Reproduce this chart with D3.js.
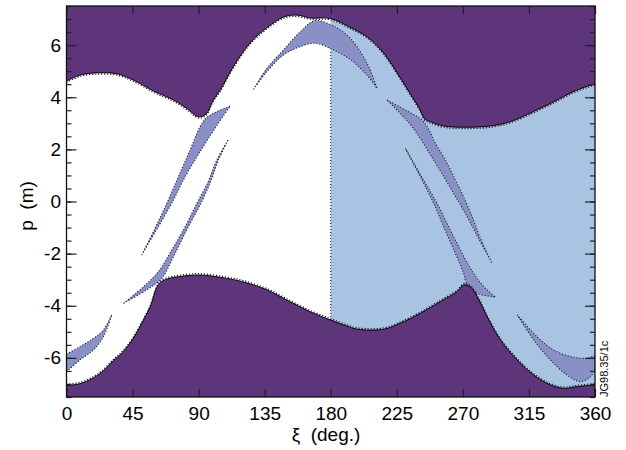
<!DOCTYPE html>
<html><head><meta charset="utf-8">
<script src="https://cdn.jsdelivr.net/npm/d3@7"></script>
<style>
body{margin:0;background:#fff}
svg{display:block}
text{font-family:"Liberation Sans",Arial,sans-serif;fill:#000}
</style>
</head><body>
<svg id="c" width="626" height="450"></svg>
<script>
// ---- data (xi in degrees, p in metres) ----
const xTicks = [0, 45, 90, 135, 180, 225, 270, 315, 360];
const yMajorTicks = [-6, -4, -2, 0, 2, 4, 6];
const yMinorTicks = d3.range(-7.5, 7.51, 0.5);

const upperBoundary = [[0,4.62],[10,4.86],[23,4.94],[35,4.89],[45.5,4.66],[60,4.22],[73,3.89],[82,3.57],[90,3.25],[95,3.35],[100,3.89],[105,4.3],[113.5,5.16],[125,6.08],[137,6.69],[148,7.08],[157,7.15],[166,7.04],[180,7.02],[193,6.69],[205,6.31],[216,5.7],[227,4.78],[234,4.15],[241,3.51],[244,3.17],[248,3.06],[257,2.9],[270,2.85],[289,2.9],[302,3.06],[318,3.45],[332,3.83],[345,4.21],[355,4.43],[360,4.51]];
const lowerBoundary = [[0,-7.06],[9,-6.99],[18,-6.78],[25,-6.5],[32,-6.1],[38,-5.8],[45.5,-5.25],[51,-4.7],[57,-4.04],[61.5,-3.3],[64,-3.1],[70,-2.95],[77,-2.88],[91,-2.82],[109,-2.95],[120,-3.08],[136.5,-3.39],[150,-3.78],[166,-4.23],[180,-4.55],[191,-4.78],[198,-4.9],[216,-4.9],[227.4,-4.67],[241,-4.29],[254.7,-3.84],[266,-3.46],[270.5,-3.2],[275,-3.27],[281,-3.78],[286.5,-4.42],[295.6,-5.31],[307,-6.08],[318.3,-6.66],[329.7,-7.04],[339,-7.17],[348,-7.1],[360,-7.04]];

const separatrix = [[180,-4.55],[180,5.81]];

const bandA_upper = [[127.4,4.30],[136.5,5.11],[147.8,5.81],[159.2,6.51],[169.4,6.94],[181.9,6.73],[193.3,6.26],[204.7,5.30],[211.5,4.34]];
const bandA_lower = [[127.4,4.30],[136.5,4.98],[147.8,5.62],[159.2,5.94],[169.4,6.07],[181.9,5.81],[193.3,5.45],[204.7,4.85],[211.5,4.34]];

const bandB1_left  = [[51.25,-2.05],[60.3,-1.03],[68.3,-0.07],[76.2,0.95],[84.2,1.98],[91.0,2.87],[95.6,3.23],[111.5,3.66]];
const bandB1_right = [[51.25,-2.05],[61.9,-1.03],[71.7,-0.07],[80.8,0.95],[91.0,1.91],[101.2,2.81],[111.5,3.66]];

const bandB2_left  = [[38.75,-3.91],[51.25,-3.33],[62.6,-2.69],[71.7,-1.86],[80.8,-0.97],[88.75,-0.07],[96.0,0.70],[102.4,1.59],[110.3,2.38]];
const bandB2_right = [[38.75,-3.91],[54.66,-3.39],[64.9,-2.95],[72.8,-2.12],[81.9,-1.09],[91.0,-0.13],[97.8,0.70],[103.5,1.59],[110.3,2.38]];

const bandC_upper = [[0,-5.85],[9.2,-5.57],[18.3,-5.25],[25.1,-4.93],[30.8,-4.35]];
const bandC_lower = [[0,-6.53],[9.2,-6.08],[18.3,-5.70],[25.1,-5.19],[30.8,-4.35]];

const bandE_upper = [[218.3,3.89],[230.8,3.51],[243.3,3.06],[251.3,2.23],[258.1,1.59],[264.9,0.82],[269.4,0.31],[276.3,-0.58],[281.5,-1.35],[289.9,-2.37]];
const bandE_lower = [[218.3,3.89],[222.8,3.64],[235.4,2.87],[250.1,1.59],[263.7,0.31],[272.9,-0.58],[280.0,-1.35],[289.9,-2.37]];

const bandF_left  = [[230.8,2.04],[242.2,0.82],[250.1,-0.07],[256.9,-0.97],[264.9,-1.99],[270.5,-2.75],[272.9,-3.20],[279.7,-3.52],[292.2,-3.67]];
const bandF_right = [[230.8,2.04],[243.3,0.82],[252.4,-0.07],[260.3,-0.97],[267.1,-1.73],[273.9,-2.44],[279.7,-2.95],[286.5,-3.39],[292.2,-3.67]];

const bandG_upper = [[307,-4.35],[320.6,-5.19],[331.9,-5.70],[343.3,-5.95],[354.7,-6.01],[360,-5.89]];
const bandG_lower = [[307,-4.35],[318.3,-5.31],[329.7,-6.08],[341,-6.66],[350.1,-6.91],[356.9,-6.72],[360,-6.46]];

const bands = [
  [bandA_upper, bandA_lower], [bandB1_left, bandB1_right], [bandB2_left, bandB2_right],
  [bandC_upper, bandC_lower], [bandE_upper, bandE_lower], [bandF_left, bandF_right],
  [bandG_upper, bandG_lower]
];

// ---- drawing ----
const COL = {purple:"#5e357b", blue:"#a9c4e2", band:"#8890c6", white:"#ffffff", dot:"#1b1b2a"};
const x = d3.scaleLinear().domain([0,360]).range([66.5,595]);
const y = d3.scaleLinear().domain([-7.5,7.5]).range([397,6]);
const svg = d3.select("#c");
const curve = d3.curveCatmullRom.alpha(0.5);
const line = d3.line().x(d=>x(d[0])).y(d=>y(d[1])).curve(curve);

svg.append("clipPath").attr("id","pc").append("rect")
  .attr("x",x(0)).attr("y",y(7.5)).attr("width",x(360)-x(0)).attr("height",y(-7.5)-y(7.5));
const g = svg.append("g").attr("clip-path","url(#pc)");

g.append("rect").attr("x",x(0)).attr("y",y(7.5)).attr("width",x(360)-x(0)).attr("height",y(-7.5)-y(7.5)).attr("fill",COL.white);
g.append("rect").attr("x",x(180)).attr("y",y(7.5)).attr("width",x(360)-x(180)).attr("height",y(-7.5)-y(7.5)).attr("fill",COL.blue);

function bandPath(e1, e2){
  return line(e1) + line(e2.slice().reverse()).replace(/^M/,"L") + "Z";
}
bands.forEach(([e1,e2])=>{
  g.append("path").attr("d",bandPath(e1,e2)).attr("fill",COL.band)
    .attr("stroke",COL.dot).attr("stroke-width",1.1).attr("stroke-dasharray","1.1 1.9");
});

g.append("path").attr("d",line(separatrix)).attr("fill","none")
  .attr("stroke",COL.dot).attr("stroke-width",1.1).attr("stroke-dasharray","1.1 1.9");

// dotted edges just outside purple
g.append("path").attr("d",line(upperBoundary)).attr("fill","none").attr("transform","translate(0,1.3)")
  .attr("stroke",COL.dot).attr("stroke-width",1.3).attr("stroke-dasharray","1.2 1.8");
g.append("path").attr("d",line(lowerBoundary)).attr("fill","none").attr("transform","translate(0,-1.3)")
  .attr("stroke",COL.dot).attr("stroke-width",1.3).attr("stroke-dasharray","1.2 1.8");

const areaTop = d3.area().x(d=>x(d[0])).y0(y(7.5)).y1(d=>y(d[1])).curve(curve);
const areaBot = d3.area().x(d=>x(d[0])).y0(y(-7.5)).y1(d=>y(d[1])).curve(curve);
g.append("path").attr("d",areaTop(upperBoundary)).attr("fill",COL.purple);
g.append("path").attr("d",areaBot(lowerBoundary)).attr("fill",COL.purple);
g.append("path").attr("d",line(upperBoundary)).attr("fill","none").attr("stroke","#000").attr("stroke-width",1);
g.append("path").attr("d",line(lowerBoundary)).attr("fill","none").attr("stroke","#000").attr("stroke-width",1);

// ---- axes ----
const fmt = d => String(d);
function styleAxis(sel){
  sel.select(".domain").remove();
  sel.selectAll(".tick line").attr("stroke","#222").attr("stroke-width",1.2);
  sel.selectAll("text").style("font-size","19px").style("font-family","'Liberation Sans',Arial,sans-serif").attr("fill","#000");
}
svg.append("g").attr("transform",`translate(0,${y(-7.5)})`)
  .call(d3.axisBottom(x).tickValues(xTicks).tickSize(-8).tickPadding(10).tickFormat(fmt)).call(styleAxis);
svg.append("g").attr("transform",`translate(0,${y(7.5)})`)
  .call(d3.axisTop(x).tickValues(xTicks).tickSize(-8).tickFormat("")).call(styleAxis);
svg.append("g").attr("transform",`translate(${x(0)},0)`)
  .call(d3.axisLeft(y).tickValues(yMinorTicks).tickSize(-5).tickFormat("")).call(styleAxis);
svg.append("g").attr("transform",`translate(${x(0)},0)`)
  .call(d3.axisLeft(y).tickValues(yMajorTicks).tickSize(-10).tickPadding(5.5).tickFormat(fmt)).call(styleAxis);
svg.append("g").attr("transform",`translate(${x(360)},0)`)
  .call(d3.axisRight(y).tickValues(yMinorTicks).tickSize(-5).tickFormat("")).call(styleAxis);
svg.append("g").attr("transform",`translate(${x(360)},0)`)
  .call(d3.axisRight(y).tickValues(yMajorTicks).tickSize(-10).tickFormat("")).call(styleAxis);

svg.append("rect").attr("x",x(0)).attr("y",y(7.5)).attr("width",x(360)-x(0)).attr("height",y(-7.5)-y(7.5))
  .attr("fill","none").attr("stroke","#111").attr("stroke-width",1.3);

svg.append("text").attr("transform","translate(26,206) rotate(-90)").attr("text-anchor","middle")
  .attr("dominant-baseline","central").style("font-size","19px").style("white-space","pre").text("p  (m)");
svg.append("text").attr("x",326).attr("y",441).attr("text-anchor","middle")
  .style("font-size","19px").style("white-space","pre").text("ξ  (deg.)");
svg.append("text").attr("transform","translate(608,397) rotate(-90)").attr("text-anchor","start")
  .style("font-size","11px").text("JG98.35/1c");
</script>
</body></html>
